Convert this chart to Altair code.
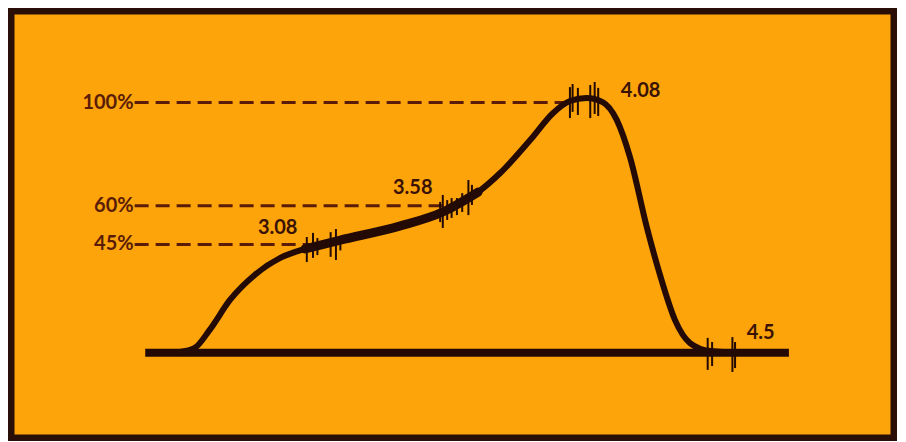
import altair as alt
import pandas as pd

# ---- data (x: 0-100 across the panel, y: percent level) ----
curve_x = [19.1, 20.8, 22.5, 24.8, 27.6, 30.5, 33.3, 37.3, 44.1, 48.9, 52.9, 55.4,
           58.8, 61.4, 63.3, 65.2, 67.0, 68.6, 70.1, 72.0, 73.5, 75.2, 76.9, 79.2, 82.6]
curve_y = [3.3, 4.9, 11.9, 23.5, 33.2, 39.8, 43.3, 46.7, 52.2, 57.6, 65.3, 72.7,
           85.5, 96.0, 100.6, 101.8, 100.2, 93.3, 78.9, 51.8, 33.2, 15.7, 6.8, 3.7, 3.0]

# heavier stretch of the trace between the 3.08 and 3.58 marks
heavy_x = [33.3, 37.3, 44.1, 48.9, 52.9]
heavy_y = [43.3, 46.7, 52.2, 57.6, 65.3]

base_x = [15.2, 88.1]
base_y = 3.0

level_values = [100, 60, 45]
level_labels = ["100%", "60%", "45%"]
level_end_x = [62.7, 49.2, 34.1]
level_start_x = 14.0

point_labels = ["3.08", "3.58", "4.08", "4.5"]
point_label_x = [30.2, 45.5, 71.3, 84.9]
point_label_y = [51.4, 66.9, 104.5, 10.7]

hash_x = [33.5, 34.2, 34.7, 36.2, 36.8, 37.3,
          48.6, 48.9, 49.4, 49.9, 50.5, 51.1, 51.8, 52.2,
          63.3, 63.6, 64.2, 65.6, 66.1, 66.5,
          78.9, 79.4, 81.7, 82.0]
hash_top = [47.9, 49.5, 47.5, 49.8, 51.0, 48.3,
            61.5, 64.2, 62.2, 63.0, 63.0, 64.9, 70.0, 68.1,
            106.0, 107.2, 105.7, 106.8, 108.0, 105.7,
            8.8, 7.2, 9.1, 7.2]
hash_bottom = [38.2, 39.8, 40.9, 40.2, 39.0, 42.7,
               53.7, 51.4, 54.5, 55.3, 56.4, 57.6, 56.4, 60.3,
               94.0, 96.4, 95.2, 94.0, 95.6, 94.8,
               -3.6, -2.1, -4.4, -2.9]

# ---- tables ----
curve_df = pd.DataFrame({"x": curve_x, "y": curve_y, "o": range(len(curve_x))})
heavy_df = pd.DataFrame({"x": heavy_x, "y": heavy_y, "o": range(len(heavy_x))})
base_df = pd.DataFrame({"x": [base_x[0]], "x2": [base_x[1]], "y": [base_y]})
level_df = pd.DataFrame({"label": level_labels, "y": level_values,
                         "x": [level_start_x] * 3, "x2": level_end_x})
pt_df = pd.DataFrame({"label": point_labels, "x": point_label_x, "y": point_label_y})
hash_df = pd.DataFrame({"x": hash_x, "y": hash_top, "y2": hash_bottom})

XS = alt.Scale(domain=[0, 100], nice=False, zero=False)
YS = alt.Scale(domain=[-30, 135.5], nice=False, zero=False)

DARK = "#240a05"
BROWN = "#5a1c08"

dashes = alt.Chart(level_df).mark_rule(
    color=BROWN, strokeWidth=3, strokeDash=[14, 7]
).encode(
    x=alt.X("x:Q", scale=XS, axis=None),
    x2="x2:Q",
    y=alt.Y("y:Q", scale=YS, axis=None),
)

level_text = alt.Chart(level_df).mark_text(
    align="right", baseline="middle", font="Lato", fontSize=20, fontWeight="bold",
    color=BROWN, dx=-1
).encode(
    x=alt.X("x:Q", scale=XS, axis=None),
    y=alt.Y("y:Q", scale=YS, axis=None),
    text="label:N",
)

baseline = alt.Chart(base_df).mark_rule(
    color=DARK, strokeWidth=8
).encode(
    x=alt.X("x:Q", scale=XS, axis=None),
    x2="x2:Q",
    y=alt.Y("y:Q", scale=YS, axis=None),
)

curve = alt.Chart(curve_df).mark_line(
    color=DARK, strokeWidth=6, interpolate="monotone", strokeCap="round"
).encode(
    x=alt.X("x:Q", scale=XS, axis=None),
    y=alt.Y("y:Q", scale=YS, axis=None),
    order="o:Q",
)

heavy = alt.Chart(heavy_df).mark_line(
    color=DARK, strokeWidth=9, interpolate="monotone", strokeCap="round"
).encode(
    x=alt.X("x:Q", scale=XS, axis=None),
    y=alt.Y("y:Q", scale=YS, axis=None),
    order="o:Q",
)

hashes = alt.Chart(hash_df).mark_rule(
    color=DARK, strokeWidth=2
).encode(
    x=alt.X("x:Q", scale=XS, axis=None),
    y=alt.Y("y:Q", scale=YS, axis=None),
    y2="y2:Q",
)

pt_text = alt.Chart(pt_df).mark_text(
    align="center", baseline="middle", font="Lato", fontSize=20, fontWeight="bold",
    color="#3a1206"
).encode(
    x=alt.X("x:Q", scale=XS, axis=None),
    y=alt.Y("y:Q", scale=YS, axis=None),
    text="label:N",
)

chart = alt.layer(dashes, level_text, baseline, curve, heavy, hashes, pt_text).properties(
    width=883,
    height=427,
    padding=3,
    autosize=alt.AutoSizeParams(type="none"),
    background="white",
).configure_view(
    fill="#fca40a",
    stroke="#2a0e08",
    strokeWidth=7,
)

chart.save("out.html", embed_options={"renderer": "svg", "actions": False})
